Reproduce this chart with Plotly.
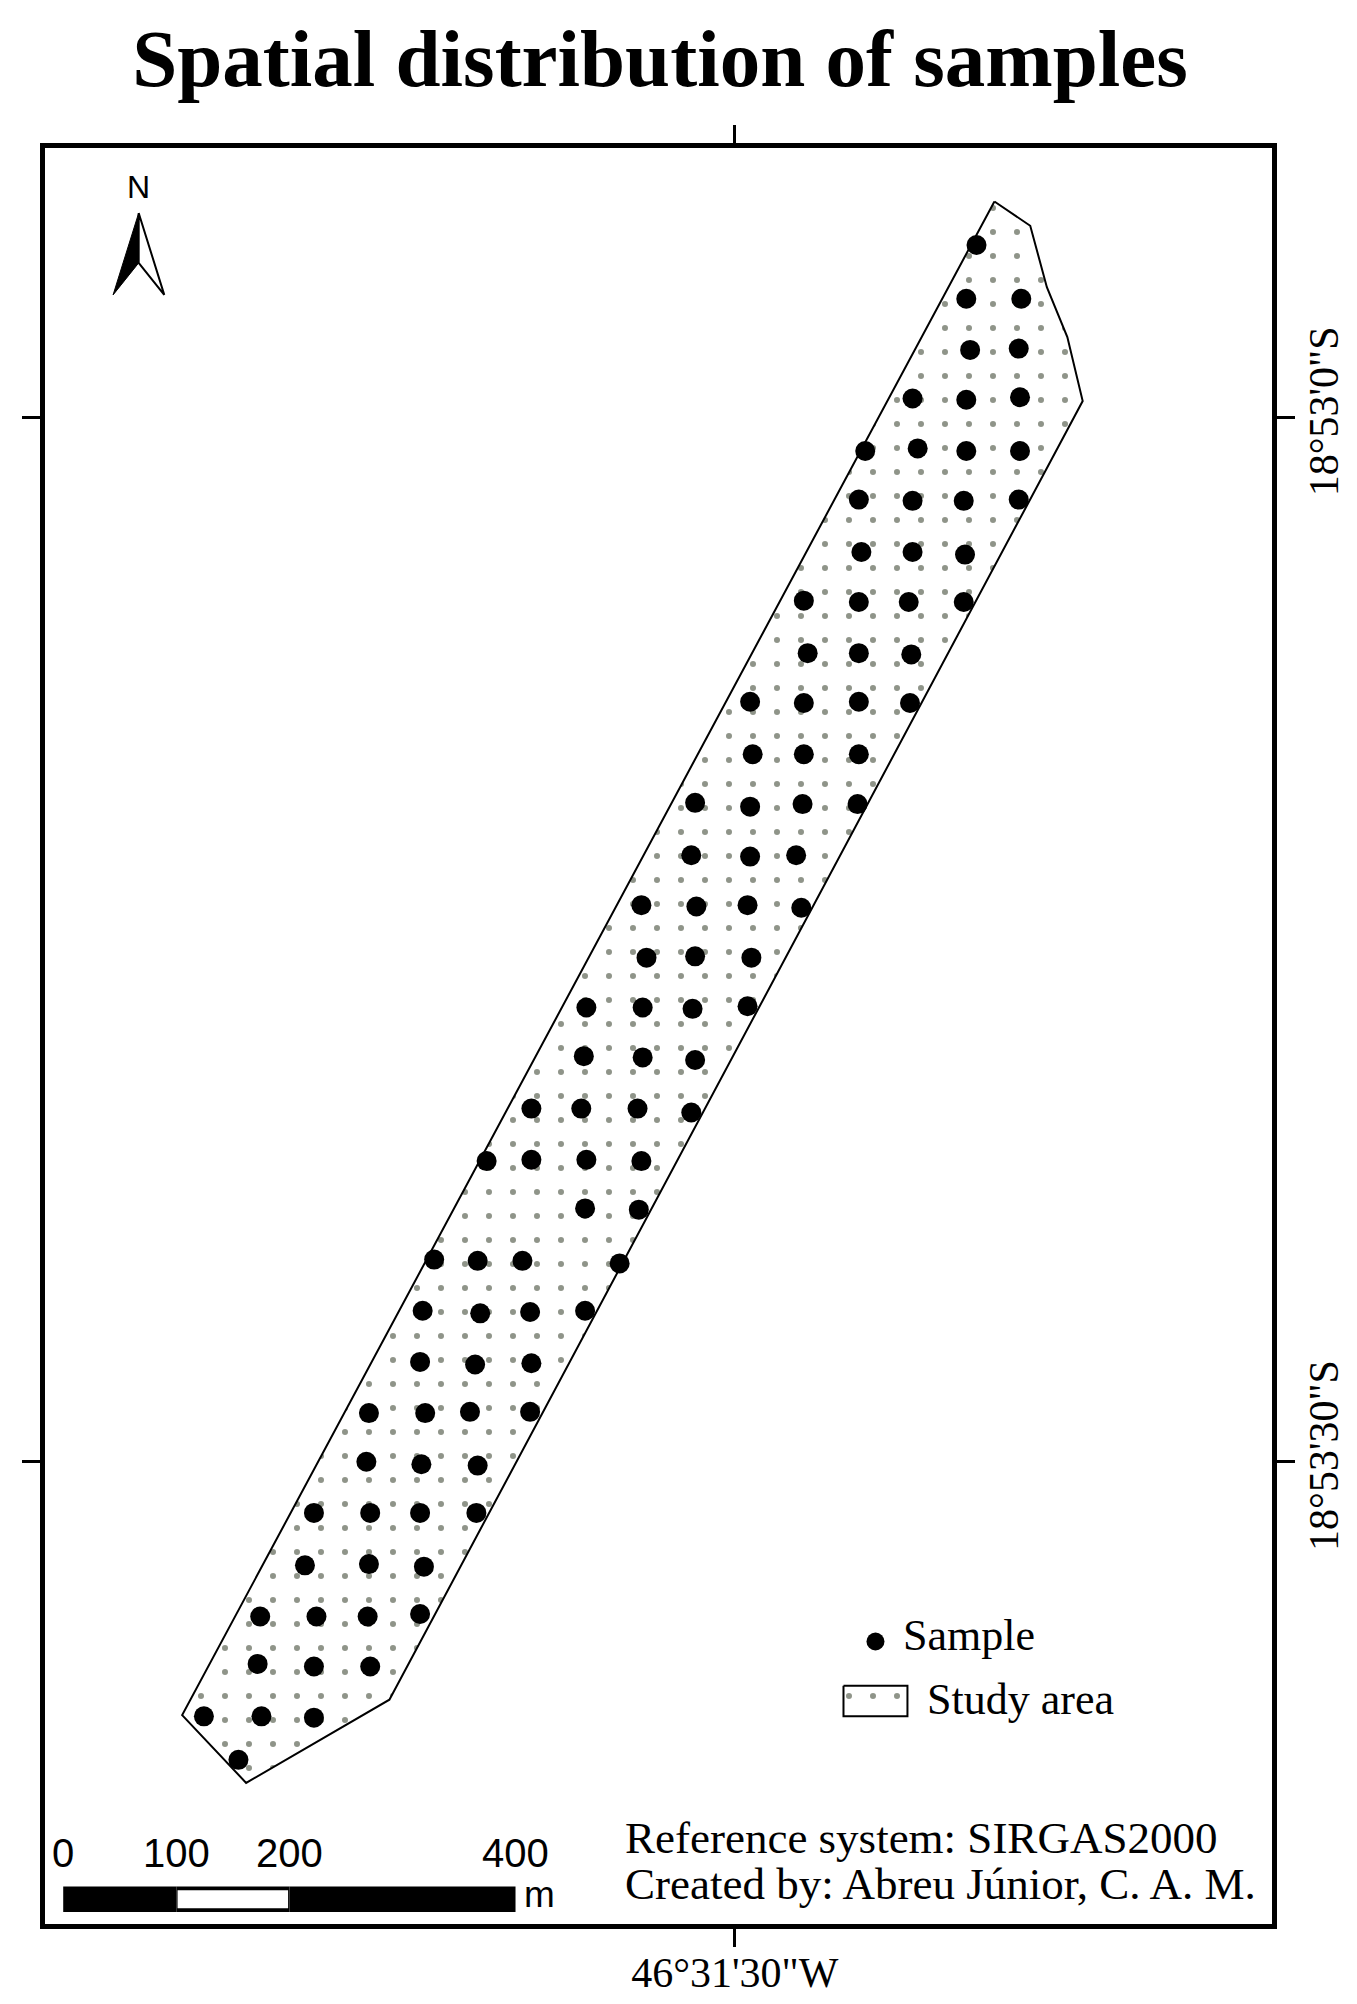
import plotly.graph_objects as go

# map grid units
sample_x = [763,755,798,758,796,713,755,797,676,717,755,797,671,713,753,796,673,713,754,628,671,710,753,
            631,671,712,586,628,671,711,588,628,671,543,586,627,670,540,586,622,501,544,584,626,505,543,587,
            458,502,541,584,456,502,543,415,454,498,540,380,415,458,501,457,499,339,373,408,484,330,375,414,457,
            328,371,415,288,332,367,414,286,329,373,245,289,328,372,238,288,331,203,247,287,328,201,245,289,
            159,204,245,186]
sample_y = [191,233,233,273,272,311,312,310,352,350,352,352,390,391,391,390,431,431,433,469,470,470,470,
            510,510,511,548,549,548,549,589,589,589,627,630,628,628,668,669,668,707,708,707,709,748,747,748,
            787,787,788,786,825,826,828,866,866,866,869,907,906,906,907,944,945,984,985,985,987,1024,1026,1025,1024,
            1064,1066,1065,1104,1104,1103,1103,1142,1144,1145,1182,1182,1182,1182,1223,1222,1224,1263,1263,1263,1261,1300,1302,1302,
            1341,1341,1342,1375]

area_x = [777,805,818,834,846,304,192,142,777]
area_y = [157,176,224,263,313,1328,1393,1340,157]

arrow_left_x = [108,88,108,108]
arrow_left_y = [166,230,205,166]
arrow_right_x = [108,128,108,108]
arrow_right_y = [166,230,205,166]

lon_tick = [574]
lon_label = ["46°31'30\"W"]
lat_ticks = [326,1142]
lat_labels = ["18°53'0\"S","18°53'30\"S"]

scale_m = [0,100,200,400]
scale_per_m = 0.884
scale_left = 49

serif = "Liberation Serif"
sans = "Liberation Sans"
hatch = dict(shape=".",size=24,solidity=0.05,fgcolor="#1f2a14",bgcolor="white")

fig = go.Figure()

#study area
fig.add_trace(go.Scatter(x=area_x,y=area_y,mode="lines",fill="toself",fillcolor="white",
    line=dict(color="black",width=2),fillpattern=hatch,hoverinfo="skip"))

#samples
fig.add_trace(go.Scatter(x=sample_x,y=sample_y,mode="markers",marker=dict(color="black",size=20),name="Sample"))

#north arrow
fig.add_trace(go.Scatter(x=arrow_left_x,y=arrow_left_y,mode="lines",fill="toself",fillcolor="black",line=dict(color="black",width=1)))
fig.add_trace(go.Scatter(x=arrow_right_x,y=arrow_right_y,mode="lines",fill="toself",fillcolor="white",line=dict(color="black",width=2)))

#legend keys
fig.add_trace(go.Scatter(x=[684],y=[1282.5],mode="markers",marker=dict(color="black",size=18)))
fig.add_trace(go.Scatter(x=[659,709,709,659,659],y=[1317,1317,1341,1341,1317],mode="lines",fill="toself",fillcolor="white",
    line=dict(color="black",width=2),fillpattern=hatch))

#scale bar
px = [scale_left+m*scale_per_m for m in scale_m]
for i in range(3):
    fig.add_shape(type="rect",x0=px[i],x1=px[i+1],y0=1474,y1=1494,xref="x",yref="y",
                  fillcolor="black",line=dict(color="black",width=0),layer="above")
fig.add_shape(type="rect",x0=px[1]+1,x1=px[2]-1,y0=1477,y1=1491,xref="x",yref="y",
              fillcolor="white",line=dict(color="white",width=0),layer="above")

def note(x,y,text,size,family=serif,anchor="left",**kw):
    fig.add_annotation(x=x,y=y,text=text,showarrow=False,xanchor=anchor,yanchor="middle",
                       font=dict(family=family,size=size,color="black"),**kw)

for m,p in zip(scale_m,px):
    note(p,1448,str(m),40,family=sans,anchor="center")
note(408,1480,"m",37,family=sans)
note(108,146,"N",32,family=sans,anchor="center")
note(704,1278,"Sample",44)
note(723,1328,"Study area",44)
note(487,1436,"Reference system: SIRGAS2000",45)
note(487,1472,"Created by: Abreu Júnior, C. A. M.",45)

fig.update_layout(
    width=1349,height=1996,showlegend=False,
    paper_bgcolor="white",plot_bgcolor="white",
    margin=dict(l=36.5,r=84.5,t=139.5,b=79.5,autoexpand=False),
    title=dict(text="<b>Spatial distribution of samples</b>",x=0.4833,xanchor="center",y=0.975,yanchor="middle",
               font=dict(family=serif,size=81,color="black")),
)
fig.update_xaxes(range=[34.76,994],tickvals=lon_tick,ticktext=lon_label,ticks="outside",ticklen=18,tickwidth=3,
                 tickcolor="black",showgrid=False,zeroline=False,showline=True,linecolor="black",linewidth=5,mirror="allticks",
                 ticklabelstandoff=-10,tickfont=dict(family=serif,size=42,color="black"))
fig.update_yaxes(range=[1503.3,115.2],tickvals=lat_ticks,ticktext=lat_labels,ticks="outside",ticklen=18,tickwidth=3,side="right",
                 tickcolor="black",showgrid=False,zeroline=False,showline=True,linecolor="black",linewidth=5,mirror="allticks",
                 ticklabelstandoff=-7,tickangle=-90,tickfont=dict(family=serif,size=42,color="black"))

fig.write_html("out.html")
